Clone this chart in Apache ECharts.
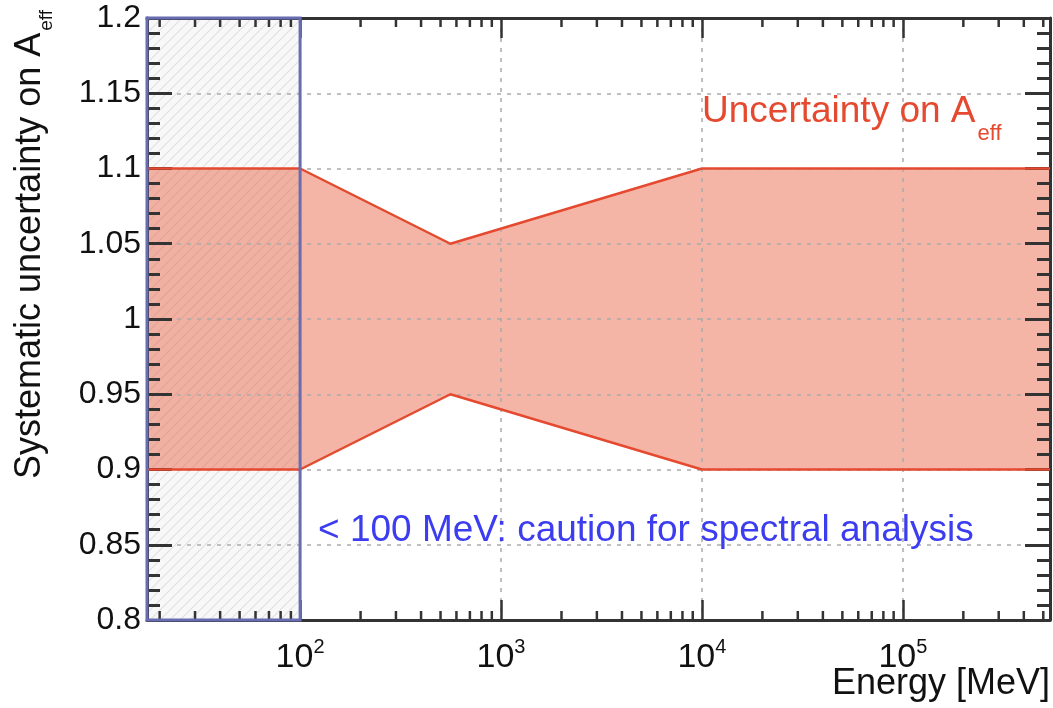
<!DOCTYPE html>
<html lang="en">
<head>
<meta charset="UTF-8">
<title>Systematic uncertainty on Aeff</title>
<script src="https://cdn.jsdelivr.net/npm/echarts@6/dist/echarts.min.js"></script>
<style>
  html, body { margin: 0; padding: 0; background: #fff; }
  #main { width: 1053px; height: 708px; }
</style>
</head>
<body>
<div id="main"></div>
<script>
  // band corners (energy in MeV)
  const energyMeV = [17.3, 100, 560, 10000, 540000];
  const upperBound = [1.1, 1.1, 1.05, 1.1, 1.1];
  const lowerBound = [0.9, 0.9, 0.95, 0.9, 0.9];
  // hatched "caution" region
  const cautionRange = [17.3, 100];
  // axis ranges
  const xRange = [17.3, 540000];
  const yRange = [0.8, 1.2];
  // minor log ticks (2..9 in every decade)
  const xMinorTicks = [
    20, 30, 40, 50, 60, 70, 80, 90,
    200, 300, 400, 500, 600, 700, 800, 900,
    2000, 3000, 4000, 5000, 6000, 7000, 8000, 9000,
    20000, 30000, 40000, 50000, 60000, 70000, 80000, 90000,
    200000, 300000, 400000, 500000
  ];

  const FONT = '"Liberation Sans", Arial, sans-serif';
  const RED = '#e5492f';
  const BLUE = '#3c3cf0';
  const FRAME = '#333';

  // diagonal hatch pattern
  const hatch = document.createElement('canvas');
  hatch.width = 10; hatch.height = 10;
  const hc = hatch.getContext('2d');
  hc.fillStyle = '#f8f8f8';
  hc.fillRect(0, 0, 10, 10);
  hc.strokeStyle = '#e0e0e0';
  hc.lineWidth = 1.1;
  hc.beginPath();
  hc.moveTo(0, 10); hc.lineTo(10, 0);
  hc.moveTo(-1, 1); hc.lineTo(1, -1);
  hc.moveTo(9, 11); hc.lineTo(11, 9);
  hc.stroke();

  function powLabel(v) {
    const e = Math.round(Math.log10(v));
    if (Math.abs(v / Math.pow(10, e) - 1) > 1e-6) return '';
    return '{b|10}{p|' + e + '}';
  }

  const gridLine = { show: true, lineStyle: { color: '#aaa', type: [4, 6], width: 1.5 } };

  const chart = echarts.init(document.getElementById('main'));

  const option = {
    backgroundColor: '#fff',
    animation: false,
    grid: { left: 147, top: 18, width: 903, height: 602 },
    xAxis: [
      {
        type: 'log', min: xRange[0], max: xRange[1], position: 'bottom', z: 3,
        axisLine: { lineStyle: { color: FRAME, width: 3 } },
        axisTick: { inside: true, length: 20, lineStyle: { color: FRAME, width: 2.5 } },
        axisLabel: {
          interval: 0, margin: 17, formatter: powLabel, color: '#111',
          rich: {
            b: { fontSize: 34, fontFamily: FONT, color: '#111', lineHeight: 38, verticalAlign: 'bottom' },
            p: { fontSize: 20, fontFamily: FONT, color: '#111', lineHeight: 20, verticalAlign: 'top' }
          }
        },
        splitLine: gridLine
      },
      {
        type: 'log', min: xRange[0], max: xRange[1], position: 'top', z: 3,
        axisLine: { lineStyle: { color: FRAME, width: 3 } },
        axisTick: { inside: true, length: 20, lineStyle: { color: FRAME, width: 2.5 } },
        axisLabel: { show: false },
        splitLine: { show: false }
      }
    ],
    yAxis: [
      {
        type: 'value', min: yRange[0], max: yRange[1], interval: 0.05, position: 'left', z: 3,
        axisLine: { show: true, lineStyle: { color: FRAME, width: 3 } },
        axisTick: { inside: true, length: 25, lineStyle: { color: FRAME, width: 3 } },
        minorTick: { show: true, splitNumber: 5, length: 13, lineStyle: { color: FRAME, width: 3 } },
        axisLabel: {
          margin: 6, fontSize: 32, fontFamily: FONT, color: '#111',
          formatter: v => String(+v.toFixed(2))
        },
        splitLine: gridLine
      },
      {
        type: 'value', min: yRange[0], max: yRange[1], interval: 0.05, position: 'right', z: 3,
        axisLine: { show: true, lineStyle: { color: FRAME, width: 3 } },
        axisTick: { inside: true, length: 25, lineStyle: { color: FRAME, width: 3 } },
        minorTick: { show: true, splitNumber: 5, length: 13, lineStyle: { color: FRAME, width: 3 } },
        axisLabel: { show: false },
        splitLine: { show: false }
      }
    ],
    series: [
      {
        // hatched region below 100 MeV
        type: 'custom', z: 1, silent: true,
        data: [cautionRange],
        renderItem: (params, api) => {
          const a = api.coord([api.value(0), yRange[1]]);
          const b = api.coord([api.value(1), yRange[0]]);
          return {
            type: 'rect',
            shape: { x: a[0], y: a[1], width: b[0] - a[0], height: b[1] - a[1] },
            style: { fill: { image: hatch, repeat: 'repeat' } }
          };
        }
      },
      {
        // uncertainty band fill
        type: 'custom', z: 2, silent: true,
        data: [0],
        renderItem: (params, api) => {
          const pts = [];
          energyMeV.forEach((e, i) => pts.push(api.coord([e, upperBound[i]])));
          for (let i = energyMeV.length - 1; i >= 0; i--) pts.push(api.coord([energyMeV[i], lowerBound[i]]));
          return {
            type: 'polygon',
            shape: { points: pts },
            style: { fill: 'rgba(230, 90, 60, 0.45)' }
          };
        }
      },
      {
        type: 'line', z: 4, symbol: 'none', silent: true,
        data: energyMeV.map((e, i) => [e, upperBound[i]]),
        lineStyle: { color: RED, width: 2.5 }
      },
      {
        type: 'line', z: 4, symbol: 'none', silent: true,
        data: energyMeV.map((e, i) => [e, lowerBound[i]]),
        lineStyle: { color: RED, width: 2.5 }
      },
      {
        // minor x ticks on bottom and top
        type: 'custom', z: 4, silent: true,
        data: xMinorTicks.map(v => [v]),
        renderItem: (params, api) => {
          const lo = api.coord([api.value(0), yRange[0]]);
          const hi = api.coord([api.value(0), yRange[1]]);
          const st = { stroke: FRAME, lineWidth: 2.5 };
          return {
            type: 'group',
            children: [
              { type: 'line', shape: { x1: lo[0], y1: lo[1], x2: lo[0], y2: lo[1] - 9 }, style: st },
              { type: 'line', shape: { x1: hi[0], y1: hi[1], x2: hi[0], y2: hi[1] + 9 }, style: st }
            ]
          };
        }
      },
      {
        // blue frame of the caution region
        type: 'custom', z: 5, silent: true,
        data: [cautionRange],
        renderItem: (params, api) => {
          const a = api.coord([api.value(0), yRange[1]]);
          const b = api.coord([api.value(1), yRange[0]]);
          return {
            type: 'rect',
            shape: { x: a[0], y: a[1], width: b[0] - a[0], height: b[1] - a[1] },
            style: { fill: 'none', stroke: '#676db0', lineWidth: 3 }
          };
        }
      }
    ],
    graphic: [
      {
        type: 'text', rotation: Math.PI / 2, x: 12, y: 10, z: 10,
        style: {
          text: '{m|Systematic uncertainty on A}{s|eff}',
          align: 'right', verticalAlign: 'top',
          rich: {
            m: { fontSize: 36, fontFamily: FONT, fill: '#111', lineHeight: 36, verticalAlign: 'top' },
            s: { fontSize: 19, fontFamily: FONT, fill: '#111', lineHeight: 44, verticalAlign: 'bottom', padding: [0, 0, 0, 2] }
          }
        }
      },
      {
        type: 'text', x: 1050, y: 666, z: 10,
        style: { text: 'Energy [MeV]', align: 'right', verticalAlign: 'top', fontSize: 36, fontFamily: FONT, fill: '#111' }
      },
      {
        type: 'text', x: 702, y: 93, z: 10,
        style: {
          text: '{m|Uncertainty on A}{s|eff}',
          align: 'left', verticalAlign: 'top',
          rich: {
            m: { fontSize: 37, fontFamily: FONT, fill: RED, lineHeight: 37, verticalAlign: 'top' },
            s: { fontSize: 22, fontFamily: FONT, fill: RED, lineHeight: 52, verticalAlign: 'bottom', padding: [0, 0, 0, 2] }
          }
        }
      },
      {
        type: 'text', x: 318, y: 531, z: 10,
        style: { text: '< 100 MeV: caution for spectral analysis', align: 'left', verticalAlign: 'middle', fontSize: 37, fontFamily: FONT, fill: BLUE }
      }
    ]
  };

  chart.setOption(option);
</script>
</body>
</html>
